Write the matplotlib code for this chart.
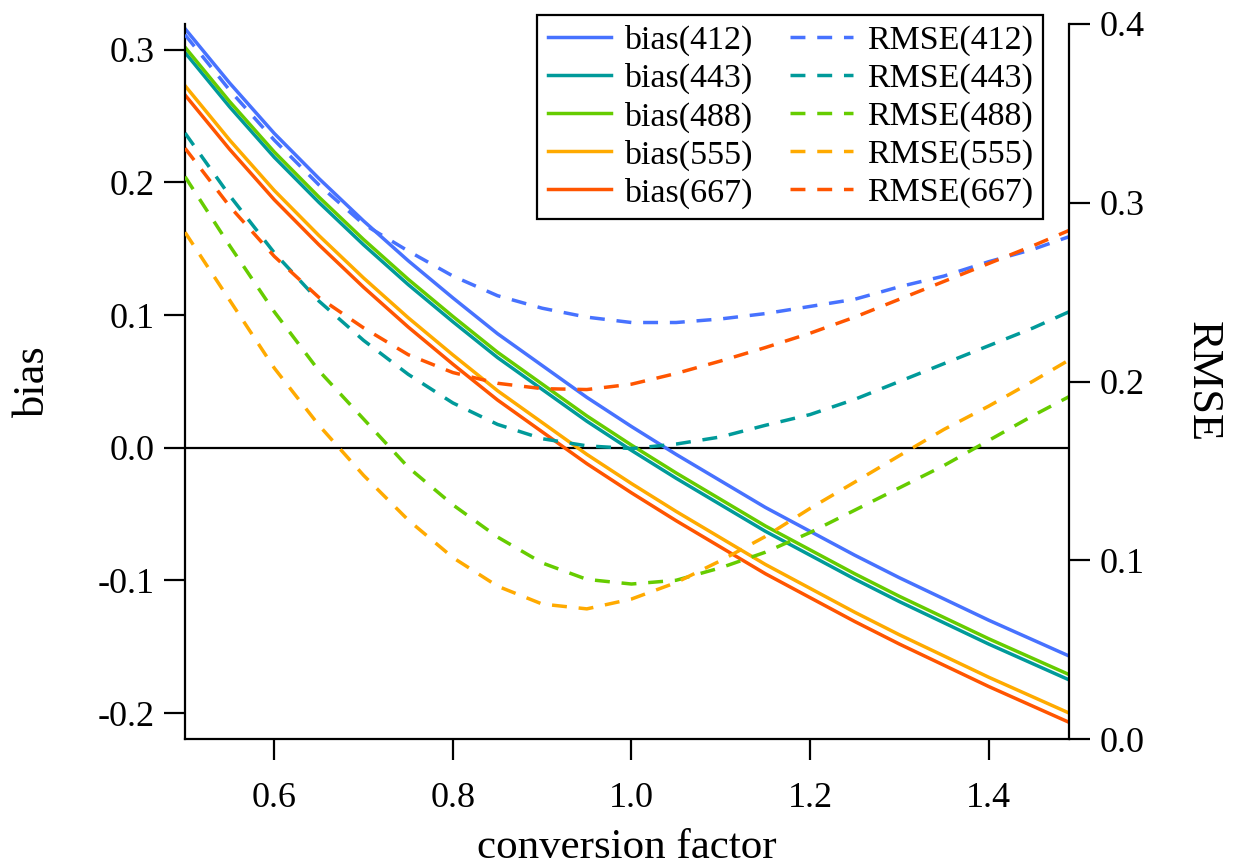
import numpy as np
import matplotlib
matplotlib.use("Agg")
import matplotlib.pyplot as plt

# values
conv_factor = [0.50, 0.55, 0.60, 0.65, 0.70, 0.75, 0.80, 0.85, 0.90, 0.95, 1.00,
               1.05, 1.10, 1.15, 1.20, 1.25, 1.30, 1.35, 1.40, 1.45, 1.49]
bands = ["412", "443", "488", "555", "667"]

bias_412 = [0.316, 0.275, 0.237, 0.203, 0.171, 0.141, 0.113, 0.086, 0.062, 0.038, 0.016,
            -0.005, -0.025, -0.045, -0.063, -0.081, -0.098, -0.114, -0.130, -0.145, -0.157]
bias_443 = [0.298, 0.257, 0.219, 0.185, 0.153, 0.123, 0.095, 0.068, 0.044, 0.020, -0.002,
            -0.023, -0.043, -0.063, -0.081, -0.099, -0.116, -0.132, -0.148, -0.163, -0.175]
bias_488 = [0.302, 0.261, 0.223, 0.189, 0.157, 0.127, 0.099, 0.072, 0.048, 0.024, 0.002,
            -0.019, -0.039, -0.059, -0.077, -0.095, -0.112, -0.128, -0.144, -0.159, -0.171]
bias_555 = [0.273, 0.232, 0.194, 0.160, 0.128, 0.098, 0.070, 0.043, 0.019, -0.005, -0.027,
            -0.048, -0.068, -0.088, -0.106, -0.124, -0.141, -0.157, -0.173, -0.188, -0.200]
bias_667 = [0.266, 0.225, 0.187, 0.153, 0.121, 0.091, 0.063, 0.036, 0.012, -0.012, -0.034,
            -0.055, -0.075, -0.095, -0.113, -0.131, -0.148, -0.164, -0.180, -0.195, -0.207]

rmse_412 = [0.394, 0.363, 0.335, 0.310, 0.288, 0.273, 0.259, 0.248, 0.241, 0.236, 0.233,
            0.233, 0.235, 0.238, 0.242, 0.246, 0.253, 0.259, 0.267, 0.274, 0.281]
rmse_443 = [0.339, 0.304, 0.272, 0.245, 0.223, 0.204, 0.188, 0.176, 0.168, 0.164, 0.1625,
            0.165, 0.169, 0.1755, 0.1815, 0.190, 0.200, 0.210, 0.220, 0.230, 0.239]
rmse_488 = [0.3146, 0.276, 0.239, 0.206, 0.179, 0.152, 0.131, 0.113, 0.0985, 0.0893, 0.0867,
            0.0888, 0.0958, 0.1045, 0.1155, 0.128, 0.1405, 0.153, 0.167, 0.181, 0.1915]
rmse_555 = [0.2835, 0.2455, 0.2075, 0.1755, 0.1475, 0.1225, 0.1015, 0.0855, 0.0755, 0.0728, 0.0783,
            0.0875, 0.0998, 0.1133, 0.129, 0.1437, 0.1585, 0.1732, 0.1862, 0.2003, 0.212]
rmse_667 = [0.3305, 0.298, 0.270, 0.247, 0.230, 0.215, 0.205, 0.199, 0.196, 0.1955, 0.1985,
            0.2045, 0.2115, 0.219, 0.227, 0.236, 0.246, 0.256, 0.266, 0.276, 0.2845]

bias_all = [bias_412, bias_443, bias_488, bias_555, bias_667]
rmse_all = [rmse_412, rmse_443, rmse_488, rmse_555, rmse_667]
colors = ["#4772FF", "#009A9A", "#66CC00", "#FFAA00", "#FF5500"]

plt.rcParams.update({
    'font.family': ['Liberation Serif', 'DejaVu Serif'],
    'font.size': 24,
    'axes.unicode_minus': False,
    'axes.linewidth': 1.6,
})

LW = 2.5
DASH = (0, (4.3, 3.4))

fig = plt.figure(figsize=(12.36, 8.66), dpi=100)
ax = fig.add_axes([185 / 1236, 1 - 739 / 866, (1069 - 185) / 1236, (739 - 24) / 866])
ax2 = ax.twinx()

handles_bias = []
handles_rmse = []
for band, b, r, c in zip(bands, bias_all, rmse_all, colors):
    h, = ax.plot(conv_factor, b, color=c, lw=LW, label=f"bias({band})")
    handles_bias.append(h)
    h2, = ax2.plot(conv_factor, r, color=c, lw=LW, ls=DASH, label=f"RMSE({band})")
    handles_rmse.append(h2)

ax.axhline(0, color='k', lw=1.6, zorder=1)

ax.set_xlim(0.5, 1.49)
ax.set_ylim(-0.2196, 0.3195)
ax2.set_ylim(0.0, 0.4)

ax.set_xticks([0.6, 0.8, 1.0, 1.2, 1.4])
ax.set_xticklabels(["0.6", "0.8", "1.0", "1.2", "1.4"])
ax.set_yticks([-0.2, -0.1, 0.0, 0.1, 0.2, 0.3])
ax.set_yticklabels(["-0.2", "-0.1", "0.0", "0.1", "0.2", "0.3"])
ax2.set_yticks([0.0, 0.1, 0.2, 0.3, 0.4])
ax2.set_yticklabels(["0.0", "0.1", "0.2", "0.3", "0.4"])

for a in (ax, ax2):
    a.spines['top'].set_visible(False)
ax.spines['right'].set_visible(False)
ax2.spines['left'].set_visible(False)
ax2.spines['bottom'].set_visible(False)

ax.tick_params(axis='both', direction='out', length=15, width=1.6, pad=7, labelsize=26)
ax.tick_params(axis='x', pad=16)
ax2.tick_params(axis='y', direction='out', length=15, width=1.6, pad=7, labelsize=26)

ax.set_xlabel("conversion factor", fontsize=31, labelpad=10)
ax.set_ylabel("bias", fontsize=32, labelpad=32)
ax2.set_ylabel("RMSE", fontsize=32, rotation=-90, labelpad=56)

leg = ax2.legend(handles_bias + handles_rmse,
                 [h.get_label() for h in handles_bias + handles_rmse],
                 ncol=2, loc='upper right',
                 bbox_to_anchor=(1043 / 1236, 1 - 15 / 866), bbox_transform=fig.transFigure,
                 borderaxespad=0, frameon=True, fancybox=False, framealpha=1,
                 edgecolor='k', fontsize=24.5, handlelength=1.85, handletextpad=0.4,
                 columnspacing=1.1, labelspacing=0.2, borderpad=0.3)
leg.get_frame().set_linewidth(1.6)

fig.savefig("out.png", dpi=100)
